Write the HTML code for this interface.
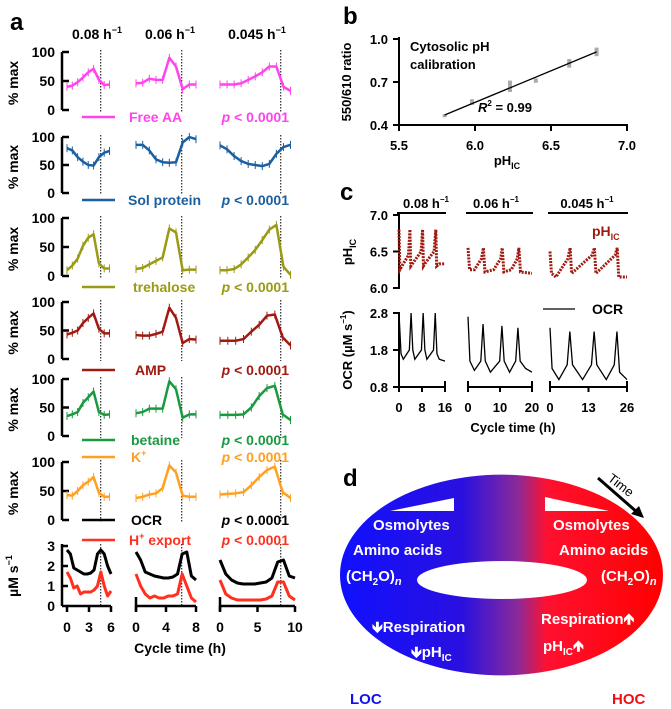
<!DOCTYPE html>
<html><head><meta charset="utf-8"><style>
html,body{margin:0;padding:0;background:#fff}
svg{display:block;font-family:"Liberation Sans",sans-serif;font-weight:bold}
</style></head><body>
<svg id="fig" width="671" height="709" viewBox="0 0 671 709" xmlns="http://www.w3.org/2000/svg">
<defs>
<linearGradient id="ringGrad" x1="340" x2="663" y1="0" y2="0" gradientUnits="userSpaceOnUse">
<stop offset="0" stop-color="#1010ff"/><stop offset="0.38" stop-color="#2a10e0"/><stop offset="0.55" stop-color="#8a2a9a"/><stop offset="0.64" stop-color="#ff1030"/><stop offset="1" stop-color="#ff0000"/>
</linearGradient>
</defs>
<g id="pa"></g>
<g id="pb"></g>
<g id="pc"></g>
<g id="pd">
<text x="343" y="486" font-size="24">d</text>
<path d="M340,575 A161,100 0 1,0 663,575 A161,100 0 1,0 340,575 Z M417,580 A85,19 0 1,0 587,580 A85,19 0 1,0 417,580 Z" fill="url(#ringGrad)" fill-rule="evenodd"/>
<polygon points="390,511 454,498 454,511" fill="#fff"/>
<polygon points="545,497 609,511 545,511" fill="#fff"/>
<line x1="598" y1="478" x2="638" y2="513" stroke="#000" stroke-width="3"/>
<polygon points="644,518 631,514 639,506" fill="#000"/>
<text x="608" y="483" font-size="13" font-weight="normal" transform="rotate(38 612 480)">Time</text>
<g fill="#fff" font-size="15">
<text x="373" y="530">Osmolytes</text>
<text x="353" y="555">Amino acids</text>
<text x="346" y="581">(CH<tspan font-size="10" dy="4">2</tspan><tspan dy="-4">O)</tspan><tspan font-style="italic" font-size="11" dy="4">n</tspan></text>
<text x="372" y="632">🡻Respiration</text>
<text x="411" y="657">🡻pH<tspan font-size="10" dy="4">IC</tspan></text>
<text x="553" y="530">Osmolytes</text>
<text x="559" y="555">Amino acids</text>
<text x="601" y="581">(CH<tspan font-size="10" dy="4">2</tspan><tspan dy="-4">O)</tspan><tspan font-style="italic" font-size="11" dy="4">n</tspan></text>
<text x="541" y="624">Respiration🡹</text>
<text x="543" y="651">pH<tspan font-size="10" dy="4">IC</tspan><tspan dy="-4">🡹</tspan></text>
</g>
<text x="350" y="704" font-size="15" fill="#1010ee">LOC</text>
<text x="612" y="704" font-size="15" fill="#ee1010">HOC</text>
</g>
</svg>
<script>
// ===== Panel a data =====
const aRates = ["0.08", "0.06", "0.045"];
const aRowNames = ["Free AA", "Sol protein", "trehalose", "AMP", "betaine", "K+"];
const freeAA1 = [40,42,48,56,65,71,52,43,44];
const freeAA2 = [46,47,54,52,52,90,75,36,44,44];
const freeAA3 = [44,44,44,46,52,58,65,75,75,40,33];
const solProt1 = [80,76,64,56,50,49,64,72,75];
const solProt2 = [86,86,76,60,55,54,55,90,100,96];
const solProt3 = [85,78,66,57,52,50,48,52,70,82,86];
const treh1 = [10,18,30,52,66,72,22,13,13];
const treh2 = [12,14,20,26,32,82,75,10,11,11];
const treh3 = [10,10,12,20,32,45,62,80,88,16,2];
const amp1 = [43,46,50,63,72,80,53,45,45];
const amp2 = [42,41,41,44,48,90,72,28,35,34];
const amp3 = [32,32,32,35,48,60,76,78,38,24];
const betaine1 = [35,38,42,58,68,78,42,37,38];
const betaine2 = [40,42,48,48,48,96,82,32,38,38];
const betaine3 = [37,37,37,38,50,70,84,88,38,28];
const kPlus1 = [43,42,50,60,66,74,47,40,40];
const kPlus2 = [38,40,44,46,55,94,82,42,40,40];
const kPlus3 = [44,45,46,48,60,74,86,92,48,38];
const ocrA1 = [2.8,2.6,1.9,1.8,1.7,1.6,1.6,1.65,1.8,2.6,2.8,2.6,2.0,1.6];
const ocrA2 = [2.7,2.3,1.7,1.6,1.5,1.45,1.4,1.4,1.45,1.6,2.6,2.7,1.5,1.3];
const ocrA3 = [2.3,1.6,1.3,1.15,1.1,1.1,1.1,1.15,1.2,1.4,2.2,2.3,1.5,1.4];
const hExp1 = [1.7,1.4,0.9,1.0,0.6,0.7,0.7,0.7,0.8,1.0,1.7,1.0,0.5,0.75];
const hExp2 = [1.6,1.0,0.6,0.4,0.5,0.4,0.4,0.5,0.5,0.6,1.6,1.0,0.4,0.2];
const hExp3 = [1.3,0.6,0.4,0.3,0.3,0.3,0.3,0.3,0.35,0.5,1.2,1.2,0.5,0.3];
const aXTicks1 = [0,3,6], aXTicks2 = [0,4,8], aXTicks3 = [0,5,10];
const aDivLines = [4.6, 6.1, 8.1];
const aPctTicks = [0,50,100];
const aUmTicks = [0,1,2,3];

// ===== Panel b data =====
const calPH = [5.8,5.98,6.23,6.4,6.62,6.8];
const calRatio = [0.47,0.56,0.67,0.71,0.83,0.91];
const calErr = [0.005,0.02,0.04,0.015,0.03,0.03];
const calFit = [[5.8,0.47],[6.8,0.91]];
const bXTicks = [5.5,6.0,6.5,7.0];
const bYTicks = [0.4,0.7,1.0];

// ===== Panel c data =====
const phT1=[0,0.3,1,3.3,3.8,4.1,5,7.7,8.2,8.5,9.3,12.2,12.8,13.1,14,16];
const phV1=[6.8,6.25,6.3,6.45,6.8,6.3,6.35,6.5,6.8,6.3,6.35,6.5,6.8,6.3,6.33,6.33];
const phT2=[0,0.5,2,4.2,4.8,5.3,8,10.2,10.7,11.2,13.5,15.4,15.9,16.4,20];
const phV2=[6.55,6.25,6.25,6.4,6.55,6.22,6.25,6.4,6.55,6.22,6.25,6.4,6.55,6.22,6.2];
const phT3=[0,0.5,2,6,6.8,7.3,14.2,15,15.5,22,22.7,23.2,26];
const phV3=[6.5,6.2,6.15,6.4,6.55,6.2,6.45,6.55,6.2,6.45,6.55,6.15,6.15];
const ocrT1=[0,0.7,1.5,3.6,4.2,4.8,5.5,7.8,8.4,9,9.7,12,12.6,13.2,14,16];
const ocrV1=[2.8,1.7,1.55,1.8,2.8,1.8,1.55,1.8,2.8,1.8,1.55,1.8,2.8,1.7,1.55,1.5];
const ocrT2=[0,0.6,2,4,4.7,5.4,7,9.9,10.6,11.3,13,14.9,15.6,16.3,18,20];
const ocrV2=[2.7,1.5,1.25,1.5,2.5,1.5,1.2,1.5,2.45,1.5,1.2,1.5,2.4,1.5,1.3,1.2];
const ocrT3=[0,0.7,3,5.8,6.7,7.6,11,14,14.9,15.8,19,21.7,22.6,23.5,26];
const ocrV3=[2.4,1.3,1.0,1.4,2.3,1.4,1.0,1.4,2.3,1.4,1.0,1.4,2.3,1.2,1.0];
const cXTicks1=[0,8,16], cXTicks2=[0,10,20], cXTicks3=[0,13,26];
const cPhTicks=[6.0,6.5,7.0], cOcrTicks=[0.8,1.8,2.8];

const NS="http://www.w3.org/2000/svg";
function mk(parent,tag,attrs,txt){const e=document.createElementNS(NS,tag);for(const k in attrs)e.setAttribute(k,attrs[k]);if(txt!==undefined)e.textContent=txt;parent.appendChild(e);return e;}
function lin(d0,d1,r0,r1){return v=>r0+(v-d0)/(d1-d0)*(r1-r0);}

// ---------- Panel A ----------
const pa=document.getElementById('pa');
let t=mk(pa,'text',{x:10,y:30,'font-size':24});t.textContent='a';


const hdrX=[97,170,257];
aRates.forEach((r,i)=>{const h=mk(pa,'text',{x:hdrX[i],y:39,'font-size':14,'text-anchor':'middle'});


h.appendChild(document.createTextNode(r+' h'));const s=mk(h,'tspan',{'font-size':9,dy:-6},'−1');});
const subX=[[67,111,6],[136,196,8],[220,295,10]];
const tMax=[5.8,8,9.4];
const rowTop=[52,137,218,302,379,462];
const rowBot=[110,193,276,359,436,520];
const rowColor=["#ff44ee","#1a5fa0","#9a9a14","#a01a10","#1a9a40","#ffa020"];
const rowData=[[freeAA1,freeAA2,freeAA3],[solProt1,solProt2,solProt3],[treh1,treh2,treh3],[amp1,amp2,amp3],[betaine1,betaine2,betaine3],[kPlus1,kPlus2,kPlus3]];
function yLabel(g,x,y,txt,sup){const e=mk(g,'text',{x:x,y:y,'font-size':14,'text-anchor':'middle',transform:`rotate(-90 ${x} ${y})`});e.textContent=txt;if(sup){mk(e,'tspan',{'font-size':9,dy:-6},sup);}

return e;}
rowData.forEach((sets,r)=>{
  const y=lin(0,100,rowBot[r],rowTop[r]);
  mk(pa,'line',{x1:62,x2:62,y1:rowTop[r],y2:rowBot[r],stroke:'#000','stroke-width':2.5});
  aPctTicks.forEach(v=>{mk(pa,'line',{x1:62,x2:69,y1:y(v),y2:y(v),stroke:'#000','stroke-width':2.5});
    const tl=mk(pa,'text',{x:55,y:y(v)+5,'font-size':14,'text-anchor':'end'},v);
    
    });
  yLabel(pa,18,(rowTop[r]+rowBot[r])/2+2,'% max');
  sets.forEach((vals,p)=>{
    const x=lin(0,subX[p][2],subX[p][0],subX[p][1]);
    const dx=x(aDivLines[p]);
    mk(pa,'line',{x1:dx,x2:dx,y1:rowTop[r]-2,y2:rowBot[r]+2,stroke:'#000','stroke-width':1,'stroke-dasharray':'1.5 1.5'});
    const pts=vals.map((v,i)=>[x(i*tMax[p]/(vals.length-1)),y(v)]);
    pts.forEach(([px,py])=>{mk(pa,'line',{x1:px,x2:px,y1:py-4,y2:py+4,stroke:rowColor[r],'stroke-width':1});});
    const pl=mk(pa,'polyline',{points:pts.map(q=>q.join(',')).join(' '),fill:'none',stroke:rowColor[r],'stroke-width':2.5,'stroke-linejoin':'round'});
    
    
  });
});
// legends
const legY=[117,200,287,370,440,457,520,540];
const legLabels=["Free AA","Sol protein","trehalose","AMP","betaine","K","OCR","H"];
const legColors=["#ff44ee","#1a5fa0","#9a9a14","#a01a10","#1a9a40","#ffa020","#000","#ff3020"];
const legTx=[129,128,133,135,131,131,131,129];
legLabels.forEach((lab,i)=>{
  const ly=legY[i];
  mk(pa,'line',{x1:82,x2:115,y1:ly,y2:ly,stroke:legColors[i],'stroke-width':2.5});
  const e=mk(pa,'text',{x:legTx[i],y:ly+5,'font-size':14,fill:legColors[i]},lab);
  if(lab==='K'){mk(e,'tspan',{'font-size':9,dy:-6},'+');}
  if(lab==='H'){mk(e,'tspan',{'font-size':9,dy:-6},'+');mk(e,'tspan',{dy:6},' export');}
  
  
  const pv=mk(pa,'text',{x:289,y:ly+5,'font-size':14,fill:legColors[i],'text-anchor':'end'});
  mk(pv,'tspan',{'font-style':'italic'},'p');pv.appendChild(document.createTextNode(' < 0.0001'));
  
  
});
// row 7
const r7y=lin(0,3,606,546);
mk(pa,'line',{x1:62,x2:62,y1:544,y2:606,stroke:'#000','stroke-width':2.5});
aUmTicks.forEach(v=>{mk(pa,'line',{x1:62,x2:68,y1:r7y(v),y2:r7y(v),stroke:'#000','stroke-width':2.5});
  const tl=mk(pa,'text',{x:55,y:r7y(v)+5,'font-size':14,'text-anchor':'end'},v);
  
  });
yLabel(pa,18,576,'µM s','−1');
const ocrA=[ocrA1,ocrA2,ocrA3], hA=[hExp1,hExp2,hExp3], aXT=[aXTicks1,aXTicks2,aXTicks3];
subX.forEach((s,p)=>{
  const x=lin(0,s[2],s[0],s[1]);
  mk(pa,'line',{x1:s[0],x2:s[1],y1:606,y2:606,stroke:'#000','stroke-width':2.5});
  if(p>0)mk(pa,'line',{x1:s[0],x2:s[0],y1:597,y2:611,stroke:'#000','stroke-width':2.5});
  aXT[p].forEach(v=>{mk(pa,'line',{x1:x(v),x2:x(v),y1:606,y2:612,stroke:'#000','stroke-width':2.5});
    const tl=mk(pa,'text',{x:x(v),y:632,'font-size':14,'text-anchor':'middle'},v);
    
    });
  const dx=x(aDivLines[p]);
  mk(pa,'line',{x1:dx,x2:dx,y1:544,y2:606,stroke:'#000','stroke-width':1,'stroke-dasharray':'1.5 1.5'});
  [[ocrA[p],'#000'],[hA[p],'#ff3020']].forEach(([vals,c])=>{
    const pts=vals.map((v,i)=>[x(i*s[2]/(vals.length-1)),r7y(v)]);
    const pl=mk(pa,'polyline',{points:pts.map(q=>q.join(',')).join(' '),fill:'none',stroke:c,'stroke-width':3,'stroke-linejoin':'round'});
    
    
  });
});
t=mk(pa,'text',{x:180,y:653,'font-size':14,'text-anchor':'middle'},'Cycle time (h)');



// ---------- Panel B ----------
const pb=document.getElementById('pb');
t=mk(pb,'text',{x:343,y:24,'font-size':24},'b');


const bx=lin(5.5,7.0,399,627), by=lin(0.4,1.0,125,39);
mk(pb,'line',{x1:399,x2:399,y1:37,y2:126,stroke:'#000','stroke-width':2});
mk(pb,'line',{x1:398,x2:628,y1:125,y2:125,stroke:'#000','stroke-width':2});
bYTicks.forEach(v=>{mk(pb,'line',{x1:393,x2:399,y1:by(v),y2:by(v),stroke:'#000','stroke-width':2});
  const tl=mk(pb,'text',{x:388,y:by(v)+5,'font-size':13,'text-anchor':'end'},v.toFixed(1));
  
  });
bXTicks.forEach(v=>{mk(pb,'line',{x1:bx(v),x2:bx(v),y1:125,y2:131,stroke:'#000','stroke-width':2});
  const tl=mk(pb,'text',{x:bx(v),y:150,'font-size':13,'text-anchor':'middle'},v.toFixed(1));
  
  });
t=mk(pb,'text',{x:507,y:165,'font-size':13,'text-anchor':'middle'},'pH');mk(t,'tspan',{'font-size':9,dy:4},'IC');


t=mk(pb,'text',{x:351,y:82,'font-size':13,'text-anchor':'middle',transform:'rotate(-90 351 82)'},'550/610 ratio');


calPH.forEach((p,i)=>{const e=mk(pb,'rect',{x:bx(p)-2,y:by(calRatio[i]+calErr[i]),width:4,height:Math.max(3,by(calRatio[i]-calErr[i])-by(calRatio[i]+calErr[i])),fill:'#aaa'});
  
  });
t=mk(pb,'line',{x1:bx(calFit[0][0]),y1:by(calFit[0][1]),x2:bx(calFit[1][0]),y2:by(calFit[1][1]),stroke:'#000','stroke-width':1.3});


t=mk(pb,'text',{x:410,y:51,'font-size':13},'Cytosolic pH');


mk(pb,'text',{x:410,y:69,'font-size':13},'calibration');
t=mk(pb,'text',{x:478,y:112,'font-size':13});mk(t,'tspan',{'font-style':'italic'},'R');mk(t,'tspan',{'font-size':8,dy:-6},'2');mk(t,'tspan',{dy:6},' = 0.99');



// ---------- Panel C ----------
const pc=document.getElementById('pc');
t=mk(pc,'text',{x:340,y:200,'font-size':24},'c');


const cSub=[[399,445,16],[468,532,20],[550,627,26]];
const cHdrX=[426,496,587];
aRates.forEach((r,i)=>{mk(pc,'line',{x1:cSub[i][0]-2,x2:cSub[i][1]+1,y1:213,y2:213,stroke:'#000','stroke-width':2});
  const h=mk(pc,'text',{x:cHdrX[i],y:208,'font-size':13,'text-anchor':'middle'});h.appendChild(document.createTextNode(r+' h'));mk(h,'tspan',{'font-size':8,dy:-6},'−1');
  
  });
const cpy=lin(6.0,7.0,288,215), coy=lin(0.8,2.8,387,313);
mk(pc,'line',{x1:399,x2:399,y1:214,y2:289,stroke:'#000','stroke-width':2});
mk(pc,'line',{x1:399,x2:399,y1:312,y2:388,stroke:'#000','stroke-width':2});
cPhTicks.forEach(v=>{mk(pc,'line',{x1:393,x2:399,y1:cpy(v),y2:cpy(v),stroke:'#000','stroke-width':2});
  const tl=mk(pc,'text',{x:388,y:cpy(v)+5,'font-size':13,'text-anchor':'end'},v.toFixed(1));
  
  });
cOcrTicks.forEach(v=>{mk(pc,'line',{x1:393,x2:399,y1:coy(v),y2:coy(v),stroke:'#000','stroke-width':2});
  const tl=mk(pc,'text',{x:388,y:coy(v)+5,'font-size':13,'text-anchor':'end'},v.toFixed(1));
  
  });
t=mk(pc,'text',{x:352,y:252,'font-size':13,'text-anchor':'middle',transform:'rotate(-90 352 252)'},'pH');mk(t,'tspan',{'font-size':9,dy:4},'IC');


t=mk(pc,'text',{x:352,y:350,'font-size':13,'text-anchor':'middle',transform:'rotate(-90 352 350)'},'OCR (µM s');mk(t,'tspan',{'font-size':8,dy:-6},'−1');mk(t,'tspan',{dy:6},')');


const phT=[phT1,phT2,phT3], phV=[phV1,phV2,phV3], oT=[ocrT1,ocrT2,ocrT3], oV=[ocrV1,ocrV2,ocrV3], cXT=[cXTicks1,cXTicks2,cXTicks3];
cSub.forEach((s,p)=>{
  const x=lin(0,s[2],s[0],s[1]);
  mk(pc,'line',{x1:s[0],x2:s[1],y1:387,y2:387,stroke:'#000','stroke-width':2});
  if(p>0)mk(pc,'line',{x1:s[0],x2:s[0],y1:381,y2:392,stroke:'#000','stroke-width':2});
  mk(pc,'line',{x1:s[1],x2:s[1],y1:381,y2:392,stroke:'#000','stroke-width':2});
  cXT[p].forEach(v=>{mk(pc,'line',{x1:x(v),x2:x(v),y1:387,y2:392,stroke:'#000','stroke-width':2});
    const tl=mk(pc,'text',{x:x(v),y:412,'font-size':13,'text-anchor':'middle'},v);
    
    });
  const ph=mk(pc,'polyline',{points:phT[p].map((tt,i)=>x(tt)+','+cpy(phV[p][i])).join(' '),fill:'none',stroke:'#a01a10','stroke-width':3,'stroke-dasharray':'2 1.2'});
  
  
  const oc=mk(pc,'polyline',{points:oT[p].map((tt,i)=>x(tt)+','+coy(oV[p][i])).join(' '),fill:'none',stroke:'#000','stroke-width':1.3});
  
  
});
t=mk(pc,'text',{x:513,y:432,'font-size':13,'text-anchor':'middle'},'Cycle time (h)');


t=mk(pc,'text',{x:592,y:236,'font-size':14,fill:'#a01a10'},'pH');mk(t,'tspan',{'font-size':9,dy:4},'IC');


mk(pc,'line',{x1:543,x2:575,y1:309,y2:309,stroke:'#000','stroke-width':1.3});
t=mk(pc,'text',{x:592,y:314,'font-size':14},'OCR');


</script>
</body></html>
